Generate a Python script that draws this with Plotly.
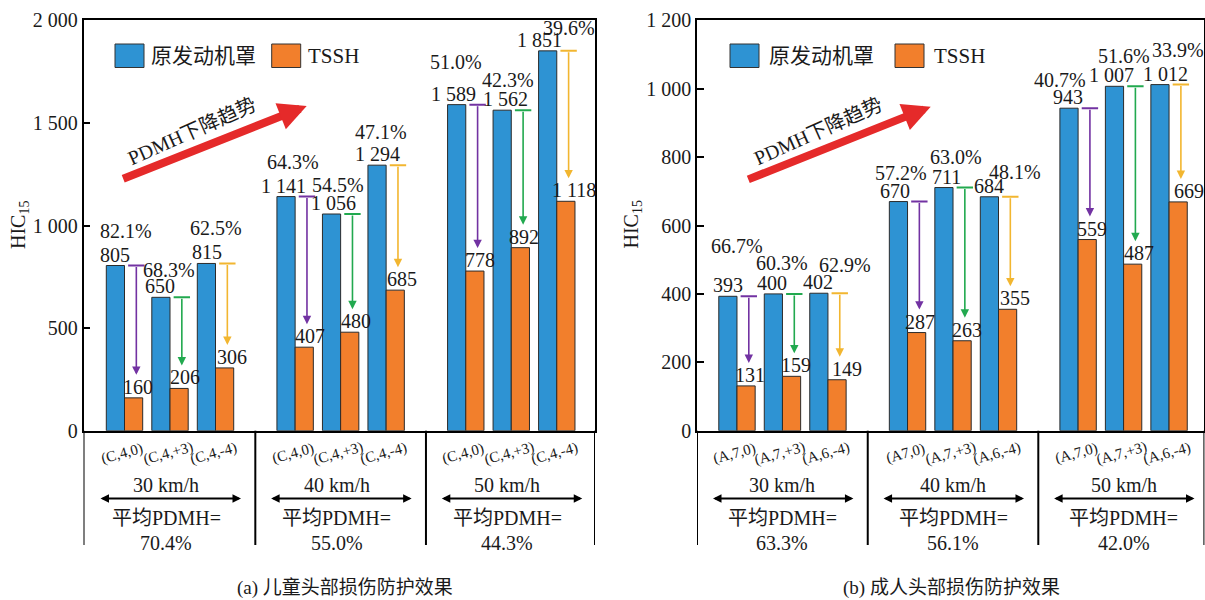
import plotly.graph_objects as go

W, H = 1205, 600

# ---------------- data ----------------
speeds = ["30 km/h", "40 km/h", "50 km/h"]

child_cases = ["(C,4,0)", "(C,4,+3)", "(C,4,-4)"] * 3
child_original = [805, 650, 815, 1141, 1056, 1294, 1589, 1562, 1851]
child_tssh = [160, 206, 306, 407, 480, 685, 778, 892, 1118]
child_pdmh = ["82.1%", "68.3%", "62.5%", "64.3%", "54.5%", "47.1%", "51.0%", "42.3%", "39.6%"]
child_avg = ["70.4%", "55.0%", "44.3%"]
child_ticks = [0, 500, 1000, 1500, 2000]

adult_cases = ["(A,7,0)", "(A,7,+3)", "(A,6,-4)",
               "(A7,0)", "(A,7,+3)", "(A,6,-4)",
               "(A,7,0)", "(A,7,+3)", "(A,6,-4)"]
adult_original = [393, 400, 402, 670, 711, 684, 943, 1007, 1012]
adult_tssh = [131, 159, 149, 287, 263, 355, 559, 487, 669]
adult_pdmh = ["66.7%", "60.3%", "62.9%", "57.2%", "63.0%", "48.1%", "40.7%", "51.6%", "33.9%"]
adult_avg = ["63.3%", "56.1%", "42.0%"]
adult_ticks = [0, 200, 400, 600, 800, 1000, 1200]

series_names = ["原发动机罩", "TSSH"]
captions = ["(a) 儿童头部损伤防护效果", "(b) 成人头部损伤防护效果"]

# ---------------- styling / layout helpers ----------------
BLUE = "#2E93D3"
ORANGE = "#F27F2C"
EDGE = "#2b2b2b"
ARROW_COLORS = ["#7232A2", "#22A94F", "#F2B630"]
RED = "#E52A2A"
FONT = "Liberation Serif, Times New Roman, Noto Sans CJK SC, serif"
TXT = "#1a1a1a"

# label nudges (pixels): percentage labels relative to pair centre / blue top
child_pct_dx = [1.5, -1, 0, -2.6, -3, -5, -10, -3.6, 12]
child_pct_up = [35, 27, 35, 35, 29, 33, 43, 30, 23]
adult_pct_dx = [0, 0, 17, -7, 2.5, 16, -18.4, 0, 8.5]
adult_pct_up = [50, 31, 28, 28.5, 31, 25, 28.5, 30, 35]
child_val_dx = [0, -1, 1, -3, 1.6, 0, -3, 3.5, -8]
adult_val_dx = [0, -1, -1, -3, 2.5, 0, -1.5, -3, 6]
child_tssh_dx = [4.5, 6, 7, 6, 6.6, 7, 5.5, 4, 8]
adult_tssh_dx = [4, 4.5, 9.5, 3, 5.3, 7, 5, 6, 10.5]


def px(x):
    return x / W


def py(y):
    return (H - y) / H


PAIR_STEP = 3.75   # distance between speed groups, in pair units
BAR_W = 0.4
xpos = [g * PAIR_STEP + j for g in range(3) for j in range(3)]
group_centers = [g * PAIR_STEP + 1 for g in range(3)]
separators = [2.875, 2.875 + PAIR_STEP]

panels = [
    dict(xa="x", ya="y", cases=child_cases, orig=child_original, tssh=child_tssh,
         pdmh=child_pdmh, avg=child_avg, ticks=child_ticks, yr=[0, 2000],
         xr=[-0.901, 10.34], dom=[px(83.5), px(595)],
         pct_dx=child_pct_dx, pct_up=child_pct_up, val_dx=child_val_dx, tssh_dx=child_tssh_dx,
         title_x=19, legend=(115, 271.7), legend_gap=5, arrow=((121.7, 179.3), (306.7, 106)),
         arrow_text=(192, 131), caption_x=345, text_shift=-4),
    dict(xa="x2", ya="y2", cases=adult_cases, orig=adult_original, tssh=adult_tssh,
         pdmh=adult_pdmh, avg=adult_avg, ticks=adult_ticks, yr=[0, 1200],
         xr=[-0.879, 10.277], dom=[px(697), px(1204.4)],
         pct_dx=adult_pct_dx, pct_up=adult_pct_up, val_dx=adult_val_dx, tssh_dx=adult_tssh_dx,
         title_x=631.5, legend=(730, 895), legend_gap=8, arrow=((746.8, 180), (930.7, 106.7)),
         arrow_text=(818, 130.5), caption_x=951.5, text_shift=0),
]

Y_DOM = [py(430.7), py(20.3)]
BOTTOM = py(545)

fig = go.Figure()
annotations = []
shapes = []


def fmt(v):
    return f"{v:,}".replace(",", " ")


def label(x, y, text, xref, yref, size=20, **kw):
    d = dict(x=x, y=y, xref=xref, yref=yref, text=text, showarrow=False,
             xanchor="center", yanchor="middle",
             font=dict(family=FONT, size=size, color=TXT))
    d.update(kw)
    return d


for p in panels:
    xa, ya = p["xa"], p["ya"]
    fig.add_trace(go.Bar(x=xpos, y=p["orig"], width=BAR_W, offset=-BAR_W, name=series_names[0],
                         marker=dict(color=BLUE, line=dict(color=EDGE, width=1)),
                         xaxis=xa, yaxis=ya, showlegend=False))
    fig.add_trace(go.Bar(x=xpos, y=p["tssh"], width=BAR_W, offset=0, name=series_names[1],
                         marker=dict(color=ORANGE, line=dict(color=EDGE, width=1)),
                         xaxis=xa, yaxis=ya, showlegend=False))

    for i, x in enumerate(xpos):
        b, o = p["orig"][i], p["tssh"][i]
        col = ARROW_COLORS[i % 3]
        xa_arrow = x + BAR_W / 2 + 0.06
        # reduction arrow from original value down towards the TSSH bar
        annotations.append(dict(x=xa_arrow, y=o, ax=xa_arrow, ay=b, xref=xa, yref=ya,
                                axref=xa, ayref=ya, text="", showarrow=True,
                                arrowhead=2, arrowsize=1.05, arrowwidth=1.6,
                                arrowcolor=col, standoff=23))
        shapes.append(dict(type="line", xref=xa, yref=ya, x0=xa_arrow - 0.18, x1=xa_arrow + 0.18,
                           y0=b, y1=b, line=dict(color=col, width=2)))
        # value labels
        annotations.append(label(x - BAR_W / 2, b, fmt(b), xa, ya,
                                 xshift=p["val_dx"][i], yshift=11))
        annotations.append(label(x + BAR_W / 2, o, fmt(o), xa, ya,
                                 xshift=p["tssh_dx"][i], yshift=11))
        annotations.append(label(x, b, p["pdmh"][i], xa, ya,
                                 xshift=p["pct_dx"][i], yshift=p["pct_up"][i]))
        # case label under the axis
        annotations.append(label(x, py(454), p["cases"][i], xa, "paper", size=15,
                                 textangle=-15, xshift=-2))

    for g, gc in enumerate(group_centers):
        annotations.append(label(gc, py(484.5), speeds[g], xa, "paper", xshift=p["text_shift"]))
        annotations.append(dict(x=gc + 1.56, y=py(498.5), ax=gc - 1.56, ay=0, xref=xa,
                                yref="paper", axref=xa, ayref="pixel", text="", showarrow=True,
                                arrowside="end+start", arrowhead=2, startarrowhead=2,
                                arrowsize=0.85, startarrowsize=0.85, arrowwidth=2,
                                arrowcolor="#000000"))
        annotations.append(label(gc, py(518), "平均PDMH=", xa, "paper", xshift=p["text_shift"]))
        annotations.append(label(gc, py(542.5), p["avg"][g], xa, "paper", xshift=p["text_shift"]))

    # frame lines continuing below the axis
    for xv in [p["xr"][0], p["xr"][1]] + separators:
        shapes.append(dict(type="line", xref=xa, yref="paper", x0=xv, x1=xv,
                           y0=Y_DOM[0], y1=BOTTOM, line=dict(color="#000000", width=2)))

    # y-axis title
    annotations.append(label(px(p["title_x"]), py(225), "HIC<sub>15</sub>", "paper", "paper",
                             textangle=-90))
    # caption
    annotations.append(label(px(p["caption_x"]), py(588),
                             captions[0] if xa == "x" else captions[1], "paper", "paper",
                             size=19))

    # legend
    lx_blue, lx_orange = p["legend"]
    for lx, col, name in [(lx_blue, BLUE, series_names[0]), (lx_orange, ORANGE, series_names[1])]:
        shapes.append(dict(type="rect", xref="paper", yref="paper", x0=px(lx), x1=px(lx + 29),
                           y0=py(67.5), y1=py(44), fillcolor=col,
                           line=dict(color="#333333", width=1)))
        annotations.append(label(px(lx + 29 + p["legend_gap"]), py(56), name, "paper", "paper",
                                 size=21, xanchor="left"))

    # trend arrow
    (tx, ty), (hx, hy) = p["arrow"]
    annotations.append(dict(x=px(hx), y=py(hy), xref="paper", yref="paper", ax=tx - hx,
                            ay=ty - hy, text="", showarrow=True, arrowhead=2, arrowsize=0.7,
                            arrowwidth=8, arrowcolor=RED))
    annotations.append(label(px(p["arrow_text"][0]), py(p["arrow_text"][1]), "PDMH下降趋势",
                             "paper", "paper", textangle=-24))

axis_common = dict(showgrid=False, zeroline=False)
for k, p in enumerate(panels):
    sfx = "" if k == 0 else str(k + 1)
    fig.layout["xaxis" + sfx] = dict(domain=p["dom"], range=p["xr"], showticklabels=False,
                                     ticks="", showline=True, linecolor="#000000", linewidth=2,
                                     mirror=True, anchor="y" + sfx, fixedrange=True, **axis_common)
    fig.layout["yaxis" + sfx] = dict(domain=Y_DOM, range=p["yr"], tickvals=p["ticks"],
                                     ticktext=[fmt(t) for t in p["ticks"]], ticks="inside",
                                     ticklen=7, tickwidth=1.5, tickcolor="#000000",
                                     showline=True, linecolor="#000000", linewidth=1.5,
                                     mirror=True, anchor="x" + sfx,
                                     tickfont=dict(family=FONT, size=20, color=TXT),
                                     fixedrange=True, **axis_common)

fig.update_layout(width=W, height=H, margin=dict(l=0, r=0, t=0, b=0, autoexpand=False),
                  paper_bgcolor="white", plot_bgcolor="white", barmode="overlay",
                  annotations=annotations, shapes=shapes, showlegend=False,
                  font=dict(family=FONT, color=TXT))

fig.write_html("out.html", config={"displayModeBar": False})
